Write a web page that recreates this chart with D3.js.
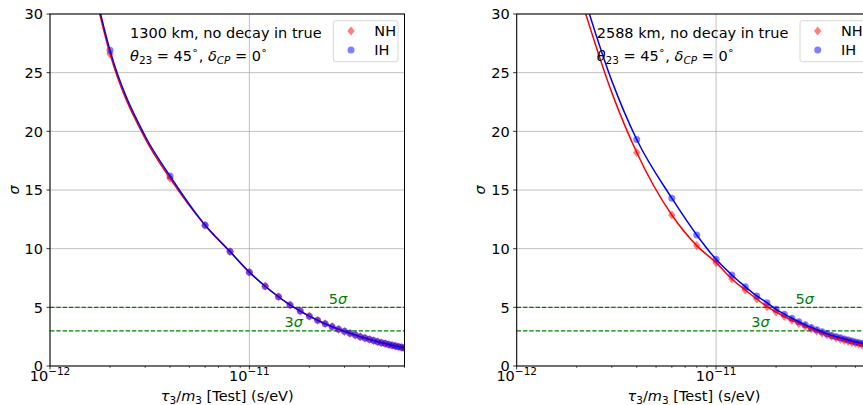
<!DOCTYPE html>
<html><head><meta charset="utf-8">
<script src="https://cdn.jsdelivr.net/npm/d3@7"></script>
<style>
body{margin:0;background:#fff}
svg{display:block}
text{font-family:"DejaVu Sans",sans-serif;fill:#000}
</style>
</head><body>
<svg id="c" width="863" height="405"></svg>
<script>
// ---------------- data ----------------
const tau = [2e-12,4e-12,6e-12,8e-12,1.0e-11,1.2e-11,1.4e-11,1.6e-11,1.8e-11,2.0e-11,
             2.2e-11,2.4e-11,2.6e-11,2.8e-11,3.0e-11,3.2e-11,3.4e-11,3.6e-11,3.8e-11,4.0e-11,
             4.2e-11,4.4e-11,4.6e-11,4.8e-11,5.0e-11,5.2e-11,5.4e-11,5.6e-11,5.8e-11,6.0e-11];

const left1300NH = [26.6,16.0,12.0,9.75,8.0,6.8,5.9,5.2,4.68,4.25,3.9,3.6,3.35,3.13,2.95,2.78,2.63,2.49,2.37,2.26,2.16,2.06,1.98,1.90,1.83,1.76,1.70,1.64,1.58,1.53];
const left1300IH = [26.9,16.2,12.0,9.75,8.0,6.8,5.9,5.2,4.68,4.25,3.9,3.6,3.35,3.14,2.96,2.79,2.64,2.50,2.38,2.27,2.17,2.07,1.99,1.91,1.84,1.77,1.71,1.65,1.59,1.54];
const right2588NH = [32.5,18.2,12.87,10.26,8.81,7.42,6.48,5.71,5.06,4.6,4.22,3.9,3.62,3.38,3.17,2.98,2.81,2.66,2.52,2.40,2.29,2.19,2.10,2.01,1.94,1.87,1.80,1.74,1.69,1.64];
const right2588IH = [33.5,19.3,14.3,11.17,9.09,7.76,6.76,5.97,5.4,4.83,4.42,4.07,3.77,3.51,3.29,3.09,2.91,2.75,2.61,2.50,2.40,2.30,2.21,2.13,2.05,1.98,1.92,1.86,1.80,1.75];

// extra points of the fitted curves (outside / between the markers)
const leftCurveX = [1.5e-12, 3e-12];
const leftCurveNH = [35.5, 19.4];
const leftCurveIH = [35.8, 19.6];
const rightCurveX = [3e-12];
const rightCurveNH = [23.3];
const rightCurveIH = [24.3];

const yTicks = [0,5,10,15,20,25,30];
const xMajorTicks = [1e-12, 1e-11];
const xMajorExp = ["\u221212", "\u221211"];
const xMinorTicks = [2e-12,3e-12,4e-12,5e-12,6e-12,7e-12,8e-12,9e-12,2e-11,3e-11,4e-11,5e-11,6e-11];
const sigmaLines = [5, 3];
const sigmaLabels = ["5", "3"];
const sigmaLabelX = [2.5e-11, 1.5e-11];
const baselines = ["1300 km, no decay in true", "2588 km, no decay in true"];
const legendNames = ["NH", "IH"];
const colors = {NH: "red", IH: "blue", NHm: "#ff0000", IHm: "#0000ff"};

// ---------------- layout ----------------
const svg = d3.select("#c");
const FS = 14.5, SFS = 10.5;
const panels = [
  {left: 50, title: baselines[0], NH: left1300NH, IH: left1300IH, cx: leftCurveX, cNH: leftCurveNH, cIH: leftCurveIH},
  {left: 516.7, title: baselines[1], NH: right2588NH, IH: right2588IH, cx: rightCurveX, cNH: rightCurveNH, cIH: rightCurveIH}
];
const W = 354.5, TOP = 14, BOT = 366;

panels.forEach((p, pi) => {
  const x = d3.scaleLog().domain([1e-12, 6e-11]).range([p.left, p.left + W]);
  const y = d3.scaleLinear().domain([0, 30]).range([BOT, TOP]);
  const g = svg.append("g");
  const clipId = "clip" + pi;
  svg.append("clipPath").attr("id", clipId).append("rect")
     .attr("x", p.left).attr("y", TOP).attr("width", W).attr("height", BOT - TOP);

  // grid
  g.selectAll(".hg").data(yTicks).enter().append("line")
    .attr("x1", p.left).attr("x2", p.left + W).attr("y1", d => y(d)).attr("y2", d => y(d))
    .attr("stroke", "#b0b0b0").attr("stroke-width", 0.8);
  g.selectAll(".vg").data(xMajorTicks).enter().append("line")
    .attr("x1", d => x(d)).attr("x2", d => x(d)).attr("y1", TOP).attr("y2", BOT)
    .attr("stroke", "#b0b0b0").attr("stroke-width", 0.8);

  // sigma lines
  sigmaLines.forEach((s, i) => {
    g.append("line").attr("x1", p.left).attr("x2", p.left + W).attr("y1", y(s)).attr("y2", y(s))
      .attr("stroke", "green").attr("stroke-width", 1.3).attr("stroke-dasharray", "4.4,1.9");
    const t = g.append("text").attr("x", x(sigmaLabelX[i])).attr("y", y(s) - 3.5)
      .attr("font-size", FS).style("fill", "green");
    t.append("tspan").text(sigmaLabels[i]);
    t.append("tspan").attr("font-style", "italic").text("\u03c3");
  });

  // markers
  const mg = g.append("g").attr("clip-path", `url(#${clipId})`);
  const diamond = "M0,-4.6L3.7,0L0,4.6L-3.7,0Z";
  mg.selectAll(".nh").data(tau.map((t, i) => [t, p.NH[i]])).enter().append("path")
    .attr("d", diamond).attr("transform", d => `translate(${x(d[0])},${y(d[1])})`)
    .attr("fill", colors.NHm).attr("fill-opacity", 0.5);
  mg.selectAll(".ih").data(tau.map((t, i) => [t, p.IH[i]])).enter().append("circle")
    .attr("cx", d => x(d[0])).attr("cy", d => y(d[1])).attr("r", 3.5)
    .attr("fill", colors.IHm).attr("fill-opacity", 0.5);

  // curves
  const line = d3.line().x(d => x(d[0])).y(d => y(d[1])).curve(d3.curveMonotoneX);
  const mk = (vals, cv) => tau.map((t, i) => [t, vals[i]]).concat(p.cx.map((t, i) => [t, cv[i]]))
    .sort((a, b) => a[0] - b[0]);
  mg.append("path").attr("d", line(mk(p.NH, p.cNH))).attr("fill", "none")
    .attr("stroke", colors.NH).attr("stroke-width", 1.5);
  mg.append("path").attr("d", line(mk(p.IH, p.cIH))).attr("fill", "none")
    .attr("stroke", colors.IH).attr("stroke-width", 1.5);

  // frame
  g.append("rect").attr("x", p.left).attr("y", TOP).attr("width", W).attr("height", BOT - TOP)
    .attr("fill", "none").attr("stroke", "#000").attr("stroke-width", 1);

  // y axis ticks
  yTicks.forEach(v => {
    g.append("line").attr("x1", p.left - 3.5).attr("x2", p.left).attr("y1", y(v)).attr("y2", y(v))
      .attr("stroke", "#000").attr("stroke-width", 0.8);
    g.append("text").attr("x", p.left - 7).attr("y", y(v)).attr("dy", "0.36em")
      .attr("text-anchor", "end").attr("font-size", FS).text(v);
  });
  // x ticks
  xMajorTicks.forEach((v, i) => {
    g.append("line").attr("x1", x(v)).attr("x2", x(v)).attr("y1", BOT).attr("y2", BOT + 3.5)
      .attr("stroke", "#000").attr("stroke-width", 0.8);
    const t = g.append("text").attr("x", x(v)).attr("y", 381).attr("text-anchor", "middle").attr("font-size", FS);
    t.append("tspan").text("10");
    t.append("tspan").attr("font-size", SFS).attr("dy", -6).text(xMajorExp[i]);
  });
  xMinorTicks.forEach(v => {
    g.append("line").attr("x1", x(v)).attr("x2", x(v)).attr("y1", BOT).attr("y2", BOT + 2)
      .attr("stroke", "#000").attr("stroke-width", 0.6);
  });

  // axis labels
  const xl = g.append("text").attr("x", p.left + W / 2).attr("y", 401).attr("text-anchor", "middle").attr("font-size", FS);
  xl.append("tspan").attr("font-style", "italic").text("\u03c4");
  xl.append("tspan").attr("font-size", SFS).attr("dy", 2.5).text("3");
  xl.append("tspan").attr("dy", -2.5).text("/");
  xl.append("tspan").attr("font-style", "italic").text("m");
  xl.append("tspan").attr("font-size", SFS).attr("dy", 2.5).text("3");
  xl.append("tspan").attr("dy", -2.5).text(" [Test] (s/eV)");

  svg.append("text").attr("transform", `translate(${p.left - 31.5},${(TOP + BOT) / 2}) rotate(-90)`)
    .attr("text-anchor", "middle").attr("font-size", FS).attr("font-style", "italic").text("\u03c3");

  // annotation
  g.append("text").attr("x", p.left + 80).attr("y", 37.5).attr("font-size", FS).text(p.title);
  const m = g.append("text").attr("x", p.left + 80).attr("y", 60.5).attr("font-size", FS);
  m.append("tspan").attr("font-style", "italic").text("\u03b8");
  m.append("tspan").attr("font-size", SFS).attr("dy", 3).text("23");
  m.append("tspan").attr("dy", -3).text(" = 45");
  m.append("tspan").attr("font-size", SFS).attr("dy", -6.5).text("\u2218");
  m.append("tspan").attr("dy", 6.5).text(", ");
  m.append("tspan").attr("font-style", "italic").text("\u03b4");
  m.append("tspan").attr("font-size", SFS).attr("font-style", "italic").attr("dy", 3).text("CP");
  m.append("tspan").attr("dy", -3).text(" = 0");
  m.append("tspan").attr("font-size", SFS).attr("dy", -6.5).text("\u2218");

  // legend
  const lx = p.left + 283.3, ly = 20.7;
  g.append("rect").attr("x", lx).attr("y", ly).attr("width", 64.7).attr("height", 41)
    .attr("rx", 2.5).attr("fill", "#fff").attr("fill-opacity", 0.8)
    .attr("stroke", "#cccccc").attr("stroke-width", 0.8);
  g.append("path").attr("d", diamond).attr("transform", `translate(${lx + 17.7},${ly + 10.3})`)
    .attr("fill", colors.NHm).attr("fill-opacity", 0.5);
  g.append("circle").attr("cx", lx + 17.7).attr("cy", ly + 29.3).attr("r", 3.5)
    .attr("fill", colors.IHm).attr("fill-opacity", 0.5);
  legendNames.forEach((n, i) => {
    g.append("text").attr("x", lx + 41).attr("y", ly + 10.3 + i * 19).attr("dy", "0.36em")
      .attr("font-size", FS).text(n);
  });
});
</script>
</body></html>
